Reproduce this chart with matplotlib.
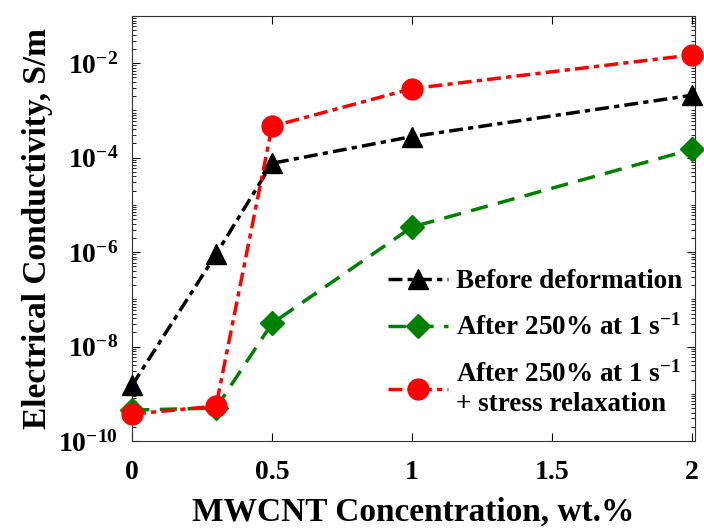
import matplotlib
matplotlib.use("Agg")
import matplotlib.pyplot as plt
from matplotlib.ticker import LogLocator, NullFormatter, FixedLocator

conc = [0, 0.3, 0.5, 1, 2]
before = [1.5e-9, 9.0e-7, 7.6e-5, 2.8e-4, 2.1e-3]
after = [4.5e-10, 5.0e-10, 3.1e-8, 3.4e-6, 1.5e-4]
relaxed = [3.7e-10, 5.5e-10, 4.6e-4, 2.9e-3, 1.5e-2]
labels = ["Before deformation", r"After 250% at 1 s$^{\mathbf{-1}}$",
          "After 250% at 1 s$^{\\mathbf{-1}}$\n+ stress relaxation"]
xticks = [0, 0.5, 1, 1.5, 2]
xticklabels = ["0", "0.5", "1", "1.5", "2"]
yticks = [1e-10, 1e-8, 1e-6, 1e-4, 1e-2]
yticklabels = [r"10$^{-10}$", r"10$^{-8}$", r"10$^{-6}$", r"10$^{-4}$", r"10$^{-2}$"]

plt.rcParams['font.family'] = ['Liberation Serif', 'DejaVu Serif']
plt.rcParams['font.weight'] = 'bold'
plt.rcParams['mathtext.fontset'] = 'custom'
plt.rcParams['mathtext.rm'] = 'Liberation Serif:bold'
plt.rcParams['mathtext.bf'] = 'Liberation Serif:bold'
plt.rcParams['mathtext.default'] = 'bf'

fig = plt.figure(figsize=(7.04, 5.31), dpi=100)
ax = fig.add_axes([132/704, 1-441/531, (695-132)/704, (441-16)/531])

ax.plot(conc, before, color='black', linestyle=(0, (4, 1.5, 1.5, 1.5)), lw=2.5,
        marker='^', ms=15, label=labels[0], clip_on=False, zorder=3)
ax.plot(conc, after, color='#008000', linestyle=(0, (5, 3)), lw=2.5,
        marker='D', ms=12, label=labels[1], clip_on=False, zorder=4)
ax.plot(conc, relaxed, color='red', linestyle=(0, (4, 1.5, 1.5, 1.5)), lw=2.5,
        marker='o', ms=15, label=labels[2], clip_on=False, zorder=5)

ax.set_yscale('log')
ax.set_ylim(1e-10, 1e-1)
ax.set_xlim(0, 2.01)
ax.yaxis.set_major_locator(FixedLocator(yticks))
ax.set_yticklabels(yticklabels)
ax.yaxis.set_minor_locator(LogLocator(base=10, subs=range(1, 10), numticks=30))
ax.yaxis.set_minor_formatter(NullFormatter())
ax.set_xticks(xticks)
ax.set_xticklabels(xticklabels)
ax.tick_params(which='both', direction='in', top=True, right=True)
ax.tick_params(which='major', length=6, width=0.8, labelsize=20)
ax.tick_params(axis='x', which='major', pad=14)
ax.tick_params(axis='y', which='major', pad=10)
ax.tick_params(which='minor', length=3, width=0.6)
for s in ax.spines.values():
    s.set_linewidth(0.8)
    s.set_color('#333333')

ax.set_xlabel("MWCNT Concentration, wt.%", fontsize=24, fontweight='bold', labelpad=8)
ax.set_ylabel("Electrical Conductivity, S/m", fontsize=24, fontweight='bold', labelpad=4)

leg = ax.legend(loc='lower right', bbox_to_anchor=(1.02, 0.0), frameon=False,
                handlelength=2.2, handletextpad=0.3, labelspacing=0.75,
                prop={'weight': 'bold', 'size': 19.5})

fig.savefig("out.png", dpi=100)
